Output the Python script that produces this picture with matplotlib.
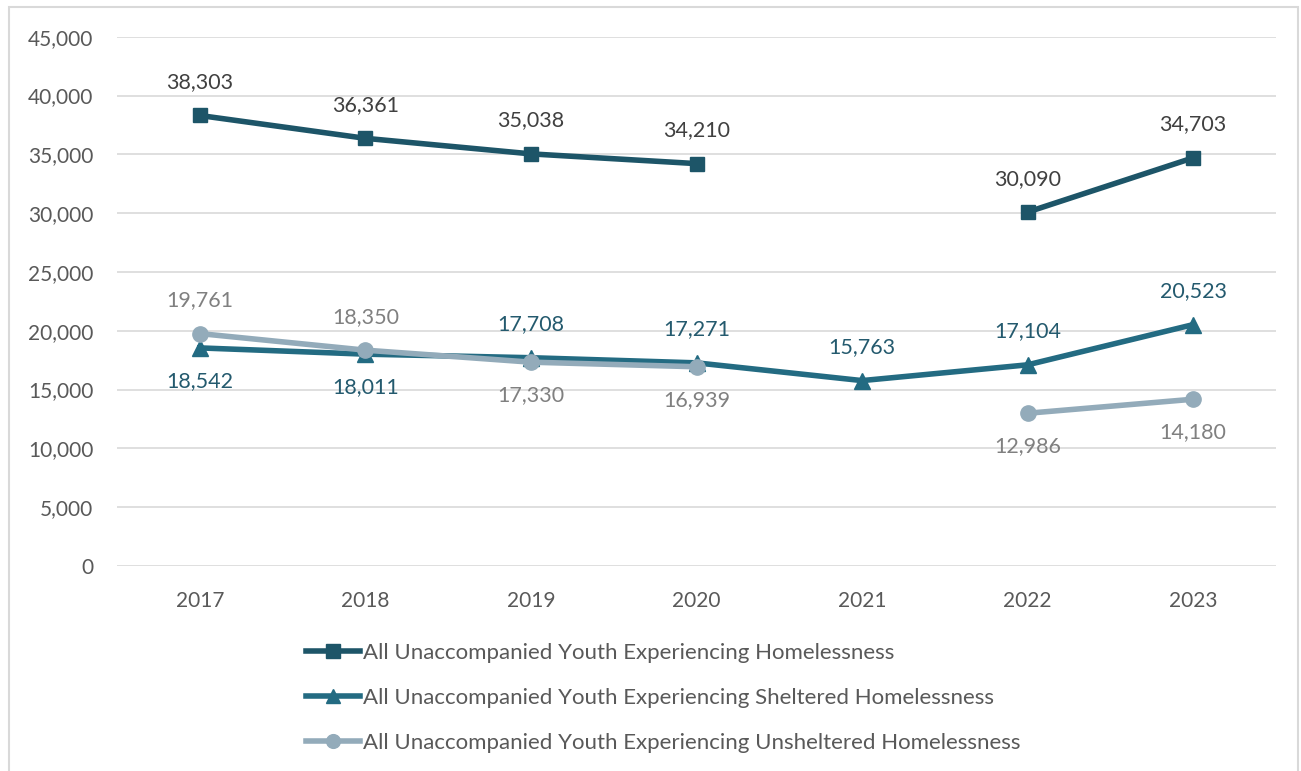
import numpy as np
import matplotlib
matplotlib.use("Agg")
import matplotlib.pyplot as plt
from matplotlib.patches import Rectangle

plt.rcParams['font.family'] = ['Lato', 'DejaVu Sans']

years = ["2017", "2018", "2019", "2020", "2021", "2022", "2023"]
total = [38303, 36361, 35038, 34210, np.nan, 30090, 34703]
sheltered = [18542, 18011, 17708, 17271, 15763, 17104, 20523]
unsheltered = [19761, 18350, 17330, 16939, np.nan, 12986, 14180]

names = ["All Unaccompanied Youth Experiencing Homelessness",
         "All Unaccompanied Youth Experiencing Sheltered Homelessness",
         "All Unaccompanied Youth Experiencing Unsheltered Homelessness"]

c_total = "#1D5568"
c_shel = "#236B82"
c_uns = "#93ABBA"

fig = plt.figure(figsize=(13.01, 7.71), dpi=100)
ax = fig.add_axes([117/1301, 1-566/771, (1276-117)/1301, (566-36.7)/771])

x = np.arange(len(years))
ax.plot(x, total, color=c_total, lw=4, marker='s', ms=10.5, label=names[0], zorder=4)
ax.plot(x, sheltered, color=c_shel, lw=4, marker='^', ms=11, label=names[1], zorder=3)
ax.plot(x, unsheltered, color=c_uns, lw=4, marker='o', ms=11, label=names[2], zorder=3)

ax.set_xlim(-0.5, 6.5)
ax.set_ylim(0, 45000)
ax.set_yticks(np.arange(0, 45001, 5000))
ax.set_yticklabels([f"{v:,}" for v in range(0, 45001, 5000)])
ax.set_xticks(x)
ax.set_xticklabels(years)
ax.grid(axis='y', color='#D9D9D9', lw=1.2)
ax.set_axisbelow(True)
for s in ax.spines.values():
    s.set_visible(False)
ax.tick_params(length=0, labelsize=15, colors='#595959')
ax.tick_params(axis='y', pad=17)
ax.tick_params(axis='x', pad=18)

fs = 15.5
off = 24
for i, v in enumerate(total):
    if not np.isnan(v):
        ax.annotate(f"{int(v):,}", (i, v), xytext=(0, off), textcoords='offset points',
                    ha='center', va='center', fontsize=fs, color='#404040')
shel_pos = [-1, -1, 1, 1, 1, 1, 1]
for i, v in enumerate(sheltered):
    ax.annotate(f"{int(v):,}", (i, v), xytext=(0, off*shel_pos[i]), textcoords='offset points',
                ha='center', va='center', fontsize=fs, color='#245A6E')
uns_pos = [1, 1, -1, -1, 0, -1, -1]
for i, v in enumerate(unsheltered):
    if not np.isnan(v):
        ax.annotate(f"{int(v):,}", (i, v), xytext=(0, off*uns_pos[i]), textcoords='offset points',
                    ha='center', va='center', fontsize=fs, color='#808080')

leg = fig.legend(loc='upper left', bbox_to_anchor=(297/1301, 1-634/771), frameon=False,
                 fontsize=16, labelcolor='#595959', handlelength=2.45, handletextpad=0.1,
                 labelspacing=1.13, borderaxespad=0, markerscale=0.9)

fig.add_artist(Rectangle((9/1301, -0.05), (1298-9)/1301, 1.05 - 7/771, transform=fig.transFigure,
                         fill=False, edgecolor='#D9D9D9', lw=1.5))

fig.savefig("out.png", dpi=100)
